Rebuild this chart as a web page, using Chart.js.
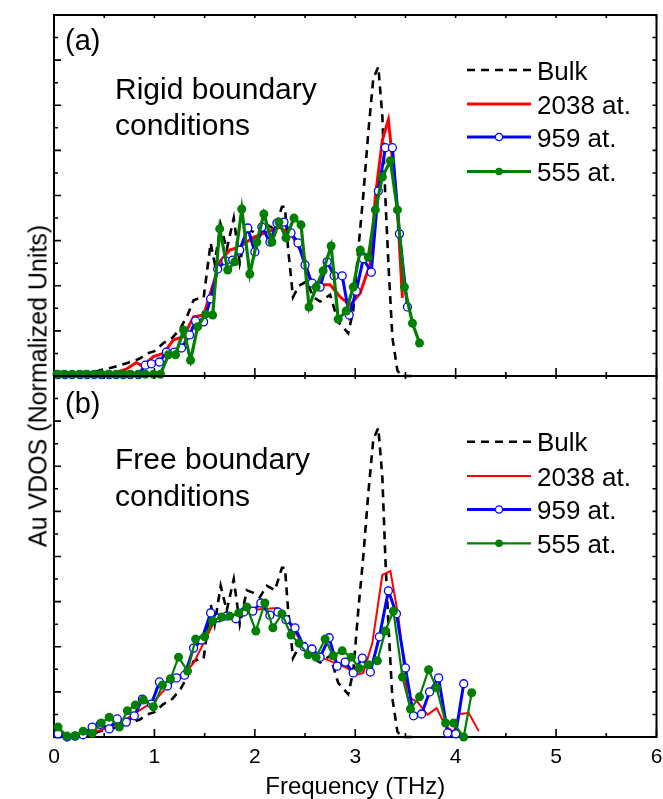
<!DOCTYPE html>
<html>
<head>
<meta charset="utf-8">
<script src="https://cdn.jsdelivr.net/npm/chart.js@4.4.1/dist/chart.umd.min.js"></script>
<style>
  html, body { margin: 0; padding: 0; background: #fff; overflow: hidden; }
  #wrap { position: relative; width: 663px; height: 799px; overflow: hidden; background: #fff; }
  #ca { position: absolute; left: 0; top: 0; }
  #cb { position: absolute; left: 0; top: 362px; }
  #ytitle {
    position: absolute; left: 38px; top: 386px;
    transform: translate(-50%, -50%) rotate(-90deg);
    font: 25px "Liberation Sans", Arial, sans-serif; color: #000; white-space: nowrap;
  }
</style>
</head>
<body>
<div id="wrap">
  <canvas id="ca" width="663" height="390"></canvas>
  <canvas id="cb" width="690" height="437"></canvas>
  <div id="ytitle">Au VDOS (Normalized Units)</div>
</div>
<script>
// ---------- tick values ----------
const freqTicks = [0, 1, 2, 3, 4, 5, 6];
const vdosTicks = [0, 1, 2, 3, 4, 5, 6, 7, 8];
const seriesLabels = ['Bulk', '2038 at.', '959 at.', '555 at.'];

// ---------- bulk (same reference curve in both panels) ----------
const bulkFreq = [0, 0.2, 0.35, 0.46, 0.6, 0.73, 0.85, 0.93, 1.0, 1.09, 1.18, 1.26, 1.33, 1.39, 1.45, 1.49, 1.52, 1.56, 1.6, 1.66, 1.72, 1.79, 1.85, 1.92, 1.98, 2.05, 2.12, 2.2, 2.27, 2.3, 2.33, 2.38, 2.44, 2.52, 2.58, 2.65, 2.75, 2.83, 2.93, 2.98, 3.03, 3.08, 3.13, 3.18, 3.23, 3.27, 3.3, 3.33, 3.37, 3.42, 3.46, 3.6];
const bulkVdos = [0, 0, 0.03, 0.13, 0.2, 0.29, 0.38, 0.5, 0.55, 0.73, 0.85, 1.06, 1.35, 1.68, 1.73, 1.73, 2.25, 2.95, 2.5, 3.35, 2.8, 3.5, 2.5, 3.25, 3.2, 3.1, 3.35, 3.25, 3.75, 3.75, 2.85, 1.75, 2.0, 2.1, 1.75, 1.65, 1.8, 1.2, 0.95, 1.45, 2.8, 4.0, 5.4, 6.6, 6.85, 5.75, 3.95, 2.5, 0.85, 0.12, 0, 0];

// ---------- (a) rigid boundary conditions ----------
const rigid2038Freq = [0, 0.5, 0.62, 0.72, 0.82, 0.88, 0.99, 1.09, 1.19, 1.29, 1.39, 1.49, 1.59, 1.65, 1.75, 1.85, 1.99, 2.12, 2.25, 2.38, 2.49, 2.55, 2.65, 2.75, 2.85, 2.95, 3.05, 3.15, 3.2, 3.27, 3.33, 3.42, 3.47];
const rigid2038Vdos = [0, 0, 0.08, 0.15, 0.3, 0.22, 0.43, 0.5, 0.8, 0.87, 1.31, 1.35, 2.07, 2.53, 2.79, 2.86, 3.08, 3.19, 3.3, 3.08, 2.64, 2.13, 2.02, 2.02, 1.75, 1.57, 1.84, 2.5, 3.97, 5.23, 5.68, 3.68, 1.73];

const rigid959Freq = [0.04, 0.11, 0.18, 0.26, 0.33, 0.4, 0.47, 0.55, 0.62, 0.69, 0.76, 0.84, 0.91, 0.97, 1.05, 1.12, 1.2, 1.27, 1.35, 1.41, 1.49, 1.56, 1.63, 1.71, 1.78, 1.85, 1.93, 2.0, 2.07, 2.15, 2.22, 2.29, 2.36, 2.43, 2.5, 2.57, 2.65, 2.72, 2.79, 2.87, 2.94, 3.01, 3.08, 3.16, 3.23, 3.3, 3.37, 3.44, 3.52];
const rigid959Vdos = [0.03, 0.03, 0.03, 0.03, 0.03, 0.03, 0.03, 0.03, 0.03, 0.03, 0.03, 0.03, 0.24, 0.27, 0.31, 0.53, 0.53, 0.62, 0.91, 1.22, 1.2, 1.71, 2.37, 2.55, 2.57, 2.79, 3.28, 2.75, 3.3, 2.97, 3.39, 3.41, 3.17, 2.95, 2.46, 2.06, 1.97, 2.53, 2.22, 2.22, 1.35, 1.88, 2.6, 2.3, 4.1, 5.06, 5.06, 3.15, 1.53];

const rigid555Freq = [0.03, 0.1, 0.18, 0.25, 0.32, 0.4, 0.47, 0.54, 0.62, 0.69, 0.76, 0.84, 0.91, 0.99, 1.06, 1.14, 1.21, 1.29, 1.36, 1.43, 1.51, 1.58, 1.65, 1.73, 1.8, 1.87, 1.95, 2.02, 2.09, 2.17, 2.24, 2.31, 2.39, 2.46, 2.54, 2.61, 2.68, 2.76, 2.83, 2.91, 2.98, 3.05, 3.13, 3.2, 3.27, 3.35, 3.42, 3.49, 3.57, 3.64];
const rigid555Vdos = [0.04, 0.04, 0.04, 0.04, 0.04, 0.04, 0.04, 0.04, 0.04, 0.04, 0.04, 0.04, 0.04, 0.04, 0.04, 0.47, 0.47, 1.02, 0.35, 1.09, 1.37, 1.35, 3.26, 2.35, 2.53, 3.7, 2.26, 2.97, 3.59, 2.97, 3.41, 3.06, 3.5, 3.35, 1.53, 1.97, 2.33, 2.88, 1.26, 1.44, 1.97, 2.79, 2.63, 3.68, 4.41, 4.77, 3.68, 1.97, 1.17, 0.73];

// ---------- (b) free boundary conditions ----------
const free2038Freq = [0, 0.1, 0.2, 0.29, 0.46, 0.66, 0.86, 1.01, 1.16, 1.29, 1.39, 1.49, 1.59, 1.72, 1.85, 1.99, 2.12, 2.22, 2.32, 2.42, 2.52, 2.65, 2.78, 2.92, 3.0, 3.08, 3.17, 3.27, 3.35, 3.43, 3.52, 3.62, 3.72, 3.81, 3.9, 3.98, 4.04, 4.13, 4.23];
const free2038Vdos = [0.1, 0.05, 0.03, 0.07, 0.15, 0.31, 0.6, 0.82, 1.2, 1.37, 1.64, 2.08, 2.53, 2.66, 2.7, 2.82, 2.84, 2.86, 2.6, 2.26, 1.88, 1.77, 1.66, 1.53, 1.37, 1.42, 2.08, 3.59, 3.68, 2.66, 0.89, 0.78, 0.49, 0.64, 0.24, 0.11, 0.51, 0.53, 0.13];

const free959Freq = [0.04, 0.13, 0.21, 0.29, 0.38, 0.46, 0.55, 0.63, 0.72, 0.8, 0.88, 0.97, 1.05, 1.13, 1.22, 1.3, 1.39, 1.47, 1.56, 1.64, 1.72, 1.81, 1.89, 1.98, 2.06, 2.15, 2.23, 2.31, 2.4, 2.49, 2.57, 2.65, 2.74, 2.82, 2.9, 2.98, 3.07, 3.15, 3.24, 3.33, 3.41, 3.5, 3.58, 3.66, 3.74, 3.83, 3.92, 4.0, 4.08];
const free959Vdos = [0.07, 0.0, 0.02, 0.05, 0.22, 0.28, 0.18, 0.4, 0.33, 0.47, 0.84, 0.73, 1.22, 1.13, 1.31, 1.37, 1.97, 2.15, 2.75, 2.64, 2.68, 2.62, 2.77, 2.79, 2.97, 2.7, 2.77, 2.6, 2.42, 2.0, 1.95, 1.77, 2.2, 1.57, 1.66, 1.42, 1.75, 1.44, 2.22, 3.24, 2.73, 1.53, 0.47, 0.51, 1.0, 1.31, 0.09, 0.07, 1.18];

const free555Freq = [0.04, 0.13, 0.21, 0.29, 0.38, 0.47, 0.55, 0.65, 0.73, 0.81, 0.89, 0.99, 1.08, 1.16, 1.24, 1.33, 1.41, 1.5, 1.58, 1.67, 1.75, 1.84, 1.92, 2.01, 2.1, 2.18, 2.27, 2.36, 2.44, 2.53, 2.61, 2.7, 2.78, 2.87, 2.96, 3.04, 3.13, 3.22, 3.3, 3.38, 3.47, 3.55, 3.64, 3.73, 3.81, 3.9, 3.98, 4.08, 4.16];
const free555Vdos = [0.22, 0.02, 0.03, 0.13, 0.08, 0.31, 0.44, 0.22, 0.58, 0.71, 0.82, 0.67, 1.15, 1.29, 1.77, 1.46, 2.17, 2.22, 2.57, 2.66, 2.68, 2.75, 2.88, 2.35, 2.97, 2.42, 2.73, 2.26, 2.08, 1.82, 1.77, 2.17, 1.8, 1.91, 1.77, 1.52, 1.6, 1.69, 2.35, 2.79, 1.33, 0.62, 0.89, 1.49, 1.09, 0.31, 0.31, 0.0, 0.98];

// ---------- helpers ----------
const FONT = '"Liberation Sans", Arial, Helvetica, sans-serif';
const pts = (xs, ys) => xs.map((x, i) => ({ x: x, y: ys[i] }));
const withHalves = arr => {
  const out = [];
  arr.forEach((v, i) => { out.push(v); if (i < arr.length - 1) out.push((v + arr[i + 1]) / 2); });
  return out;
};

function makeDatasets(s2038, s959, s555, w) {
  // order in array: top-most first
  return [
    { label: seriesLabels[3], data: s555, borderColor: '#008000', backgroundColor: '#008000',
      borderWidth: w.g, pointRadius: w.gr, pointBorderWidth: 0, pointBackgroundColor: '#008000',
      pointStyle: 'circle', tension: 0, clip: false },
    { label: seriesLabels[2], data: s959, borderColor: '#0000ff', backgroundColor: '#ffffff',
      borderWidth: w.b, pointRadius: 4, pointBorderWidth: 1.3, pointBorderColor: '#0000ff',
      pointBackgroundColor: '#ffffff', pointStyle: 'circle', tension: 0, clip: false },
    { label: seriesLabels[1], data: s2038, borderColor: '#ff0000', backgroundColor: '#ff0000',
      borderWidth: w.r, pointRadius: 0, tension: 0, clip: false },
    { label: seriesLabels[0], data: pts(bulkFreq, bulkVdos), borderColor: '#000000',
      borderWidth: 2.6, borderDash: [8, 6], pointRadius: 0, tension: 0, clip: false }
  ];
}

// frame with inward ticks
const frameTicks = {
  id: 'frameTicks',
  beforeDatasetsDraw(chart) {
    const { ctx, chartArea: a, scales: { x, y } } = chart;
    ctx.save();
    ctx.strokeStyle = '#000';
    ctx.lineWidth = 1.6;
    ctx.beginPath();
    withHalves(freqTicks).forEach(v => {
      const px = x.getPixelForValue(v);
      const major = Number.isInteger(v);
      ctx.moveTo(px, a.bottom); ctx.lineTo(px, a.bottom - (major ? 8 : 4));
      ctx.moveTo(px, a.top); ctx.lineTo(px, a.top + 3);
    });
    withHalves(vdosTicks).forEach(v => {
      const py = y.getPixelForValue(v);
      const major = Number.isInteger(v);
      ctx.moveTo(a.left, py); ctx.lineTo(a.left + (major ? 7 : 4), py);
      ctx.moveTo(a.right, py); ctx.lineTo(a.right - 4, py);
    });
    ctx.stroke();
    ctx.lineWidth = 2;
    ctx.strokeRect(a.left, a.top, a.right - a.left, a.bottom - a.top);
    ctx.restore();
  }
};

// panel label, annotation and legend
const panelDecor = {
  id: 'panelDecor',
  afterDatasetsDraw(chart, args, o) {
    const ctx = chart.ctx;
    const dy = o.offsetY;
    ctx.save();
    ctx.fillStyle = '#000';
    ctx.textBaseline = 'alphabetic';
    ctx.textAlign = 'left';
    ctx.font = '29px ' + FONT;
    ctx.fillText(o.tag, o.tagX, o.tagY - dy);
    ctx.font = '30px ' + FONT;
    o.lines.forEach((t, i) => ctx.fillText(t, o.linesX, o.linesY[i] - dy));
    // legend
    const order = [3, 2, 1, 0];
    ctx.font = '26px ' + FONT;
    order.forEach((di, i) => {
      const ds = chart.data.datasets[di];
      const yy = o.legendY[i] - dy;
      ctx.save();
      ctx.strokeStyle = ds.borderColor;
      ctx.lineWidth = o.legendW[i];
      ctx.setLineDash(ds.borderDash || []);
      ctx.beginPath();
      ctx.moveTo(o.legX0, yy); ctx.lineTo(o.legX1, yy);
      ctx.stroke();
      ctx.setLineDash([]);
      if (di === 1) {
        ctx.beginPath(); ctx.arc((o.legX0 + o.legX1) / 2, yy, 3.6, 0, Math.PI * 2);
        ctx.fillStyle = '#fff'; ctx.fill(); ctx.lineWidth = 1.3; ctx.strokeStyle = '#0000ff'; ctx.stroke();
      } else if (di === 0) {
        ctx.beginPath(); ctx.arc((o.legX0 + o.legX1) / 2, yy, 3.8, 0, Math.PI * 2);
        ctx.fillStyle = '#008000'; ctx.fill();
      }
      ctx.restore();
      ctx.fillText(ds.label, o.legTextX, yy + 9.5);
    });
    ctx.restore();
  }
};

function baseOptions(padding) {
  return {
    responsive: false, animation: false, devicePixelRatio: 1, events: [],
    layout: { padding: padding },
    plugins: { legend: { display: false }, tooltip: { enabled: false } },
    scales: {
      x: { type: 'linear', min: 0, max: 6, display: false },
      y: { type: 'linear', min: 0, max: 8, display: false }
    }
  };
}

// ---------- chart (a) ----------
const optA = baseOptions({ left: 54, right: 6.5, top: 15, bottom: 14 });
optA.plugins.panelDecor = {
  offsetY: 0, tag: '(a)', tagX: 65, tagY: 50,
  lines: ['Rigid boundary', 'conditions'], linesX: 115, linesY: [99, 135],
  legendY: [70, 104, 137, 171.5], legendW: [2.6, 3, 3, 3],
  legX0: 467, legX1: 531, legTextX: 537
};
new Chart(document.getElementById('ca'), {
  type: 'line',
  data: { datasets: makeDatasets(pts(rigid2038Freq, rigid2038Vdos), pts(rigid959Freq, rigid959Vdos), pts(rigid555Freq, rigid555Vdos), { r: 3, b: 3, g: 3.2, gr: 4.5 }) },
  options: optA,
  plugins: [frameTicks, panelDecor]
});

// ---------- chart (b) ----------
const optB = baseOptions({ left: 54, right: 33.5, top: 14, bottom: 0 });
optB.scales.x = {
  type: 'linear', min: 0, max: 6, display: true,
  afterBuildTicks: s => { s.ticks = freqTicks.map(v => ({ value: v })); },
  afterFit: s => { s.height = 62; },
  grid: { display: false, drawTicks: false },
  border: { display: false },
  ticks: { color: '#000', font: { family: FONT, size: 21 }, padding: 8, maxRotation: 0, autoSkip: false },
  title: { display: true, text: 'Frequency (THz)', color: '#000', font: { family: FONT, size: 24, lineHeight: 0.95 }, padding: { top: 0, bottom: 0 } }
};
optB.plugins.panelDecor = {
  offsetY: 362, tag: '(b)', tagX: 65, tagY: 413,
  lines: ['Free boundary', 'conditions'], linesX: 115, linesY: [469, 506],
  legendY: [441.7, 476, 509.5, 543.3], legendW: [2.6, 2, 3, 2.2],
  legX0: 467, legX1: 531, legTextX: 537
};
new Chart(document.getElementById('cb'), {
  type: 'line',
  data: { datasets: makeDatasets(pts(free2038Freq, free2038Vdos), pts(free959Freq, free959Vdos), pts(free555Freq, free555Vdos), { r: 2, b: 3, g: 2.2, gr: 4.5 }) },
  options: optB,
  plugins: [frameTicks, panelDecor]
});
</script>
</body>
</html>
